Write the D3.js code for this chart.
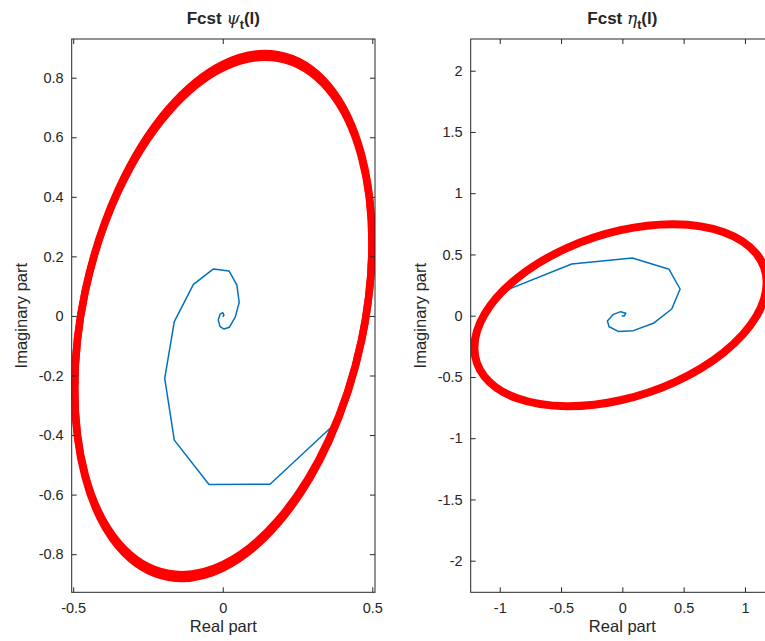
<!DOCTYPE html>
<html>
<head>
<meta charset="utf-8">
<script src="https://cdn.jsdelivr.net/npm/d3@7"></script>
<style>
  body { margin: 0; background: #fff; }
  svg { display: block; }
  text { font-family: "Liberation Sans", Arial, Helvetica, sans-serif; fill: #262626; }
</style>
</head>
<body>
<div class="chart"></div>
<script>
//tick values
const psiTicksX = [-0.5, 0, 0.5],
  psiTicksY = [-0.8, -0.6, -0.4, -0.2, 0, 0.2, 0.4, 0.6, 0.8],
  etaTicksX = [-1, -0.5, 0, 0.5, 1],
  etaTicksY = [-2, -1.5, -1, -0.5, 0, 0.5, 1, 1.5, 2];

//forecast path psi (real / imaginary), outermost first
const psiFcstRe = [0.376, 0.158, -0.046, -0.162, -0.194, -0.162, -0.098, -0.031, 0.021, 0.047, 0.055, 0.042, 0.022, 0.004, -0.009, -0.015, -0.009, 0.000, 0.004, 0.000],
  psiFcstIm = [-0.361, -0.565, -0.566, -0.417, -0.210, -0.019, 0.106, 0.158, 0.151, 0.104, 0.046, -0.003, -0.038, -0.044, -0.036, -0.014, 0.006, 0.011, 0.003, -0.003];

//forecast path eta
const etaFcstRe = [-0.943, -0.413, 0.082, 0.381, 0.471, 0.403, 0.253, 0.090, -0.033, -0.108, -0.122, -0.073, -0.013, 0.028, 0.016, -0.005],
  etaFcstIm = [0.210, 0.422, 0.471, 0.379, 0.218, 0.055, -0.062, -0.122, -0.128, -0.090, -0.043, 0.011, 0.033, 0.020, -0.002, -0.002];

//red limit cycles: centre, then per trace the rightmost point (offset from centre)
//and the height where the trace crosses Re = centre on the upper side
const psiCycleCentre = [0.002, 0.000],
  psiCycleEdgeRe = [0.497, 0.497],
  psiCycleEdgeIm = [0.247, 0.243],
  psiCycleCrossIm = [0.846, 0.834];

const etaCycleCentre = [-0.015, 0.004],
  etaCycleEdgeRe = [1.192],
  etaCycleEdgeIm = [0.265],
  etaCycleCrossIm = [0.694];

const width = 765, height = 641,
  plotTop = 39, plotBottom = 592.3,
  ink = "#262626", blue = "#0072BD", red = "#FF0000";

const svg = d3.select(".chart").append("svg")
  .attr("width", width)
  .attr("height", height);

const panels = [
  {id: "psi", sym: "\u03C8", left: 71.7, right: 375, xDom: [-0.505, 0.509], yDom: [-0.928, 0.930],
   xt: psiTicksX, yt: psiTicksY, re: psiFcstRe, im: psiFcstIm,
   cc: psiCycleCentre, ere: psiCycleEdgeRe, eim: psiCycleEdgeIm, cim: psiCycleCrossIm, ringW: 7.5, ylabX: 21},
  {id: "eta", sym: "\u03B7", left: 470.7, right: 774, xDom: [-1.237, 1.237], yDom: [-2.258, 2.259],
   xt: etaTicksX, yt: etaTicksY, re: etaFcstRe, im: etaFcstIm,
   cc: etaCycleCentre, ere: etaCycleEdgeRe, eim: etaCycleEdgeIm, cim: etaCycleCrossIm, ringW: 8, ylabX: 420}
];

panels.forEach(p => {
  const x = d3.scaleLinear().domain(p.xDom).range([p.left, p.right]),
    y = d3.scaleLinear().domain(p.yDom).range([plotBottom, plotTop]);
  const g = svg.append("g");

  g.append("clipPath").attr("id", "clip-" + p.id)
    .append("rect")
    .attr("x", p.left).attr("y", plotTop)
    .attr("width", p.right - p.left).attr("height", plotBottom - plotTop);

  const plot = g.append("g").attr("clip-path", "url(#clip-" + p.id + ")");
  const line = d3.line().x(d => x(d[0])).y(d => y(d[1]));

  //forecast spiral
  plot.append("path")
    .datum(p.re.map((v, i) => [v, p.im[i]]))
    .attr("d", line)
    .attr("fill", "none")
    .attr("stroke", blue)
    .attr("stroke-width", 1.5)
    .attr("stroke-linejoin", "round");

  //thick red cycle on top: unit circle mapped through conjugate radii
  const cx0 = x(p.cc[0]), cy0 = y(p.cc[1]);
  plot.selectAll("circle.cycle")
    .data(p.ere.map((v, i) => ({re: v, im: p.eim[i], cross: p.cim[i]})))
    .enter().append("circle")
    .attr("class", "cycle")
    .attr("r", 1)
    .attr("transform", d => "matrix(" + [
      x(p.cc[0] + d.re) - cx0, y(p.cc[1] + d.im) - cy0,
      0, y(p.cc[1] + d.cross) - cy0,
      cx0, cy0].join(",") + ")")
    .attr("vector-effect", "non-scaling-stroke")
    .attr("fill", "none")
    .attr("stroke", red)
    .attr("stroke-width", p.ringW);

  //axes, ticks inward on all sides
  const axB = g.append("g").attr("transform", "translate(0," + plotBottom + ")")
    .call(d3.axisBottom(x).tickValues(p.xt).tickSize(-5).tickPadding(10).tickFormat(d => String(d)));
  const axT = g.append("g").attr("transform", "translate(0," + plotTop + ")")
    .call(d3.axisTop(x).tickValues(p.xt).tickSize(-5).tickFormat(""));
  const axL = g.append("g").attr("transform", "translate(" + p.left + ",0)")
    .call(d3.axisLeft(y).tickValues(p.yt).tickSize(-5).tickPadding(8).tickFormat(d => String(d)));
  const axR = g.append("g").attr("transform", "translate(" + p.right + ",0)")
    .call(d3.axisRight(y).tickValues(p.yt).tickSize(-5).tickFormat(""));

  [axB, axT, axL, axR].forEach(a => {
    a.select(".domain").remove();
    a.selectAll("line").attr("stroke", ink);
    a.selectAll("text")
      .style("font-family", "'Liberation Sans', Arial, sans-serif")
      .style("font-size", "14.5px")
      .attr("fill", ink);
  });

  g.append("rect")
    .attr("x", p.left).attr("y", plotTop)
    .attr("width", p.right - p.left).attr("height", plotBottom - plotTop)
    .attr("fill", "none")
    .attr("stroke", ink)
    .attr("stroke-width", 1);

  const cx = (p.left + p.right) / 2;

  //title
  const t = g.append("text")
    .attr("x", cx).attr("y", 23.5)
    .attr("text-anchor", "middle")
    .style("font-size", "17px")
    .style("font-weight", "bold");
  t.append("tspan").text("Fcst ");
  t.append("tspan").text(p.sym)
    .style("font-family", "'DejaVu Serif', 'Liberation Serif', serif")
    .style("font-style", "italic")
    .style("font-weight", "normal");
  t.append("tspan").text("t").attr("dy", 5).style("font-size", "12.5px");
  t.append("tspan").text("(l)").attr("dy", -5);

  //axis labels
  g.append("text")
    .attr("x", cx).attr("y", 631.5)
    .attr("text-anchor", "middle")
    .style("font-size", "16.5px")
    .text("Real part");

  g.append("text")
    .attr("transform", "translate(" + p.ylabX + "," + ((plotTop + plotBottom) / 2) + ") rotate(-90)")
    .attr("dy", "0.35em")
    .attr("text-anchor", "middle")
    .style("font-size", "16.5px")
    .text("Imaginary part");
});
</script>
</body>
</html>
